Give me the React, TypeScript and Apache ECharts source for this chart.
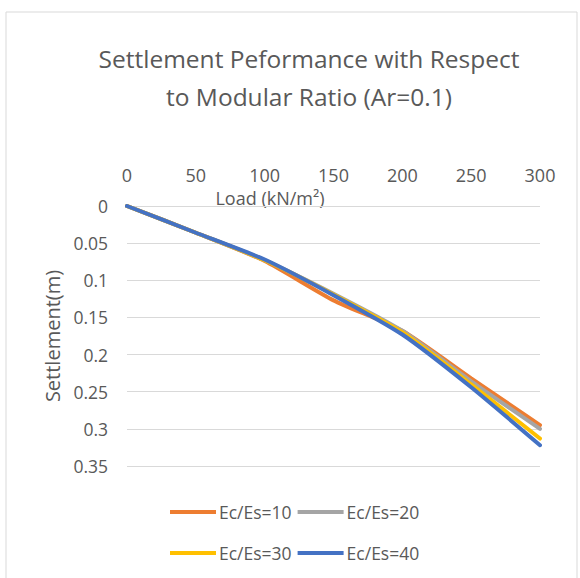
import React, { useEffect, useRef } from "react";
import * as echarts from "echarts";

const loads = [0, 50, 100, 150, 200, 250, 300];
const ratio10 = [0, 0.036, 0.074, 0.127, 0.168, 0.232, 0.295];
const ratio20 = [0, 0.036, 0.073, 0.118, 0.168, 0.236, 0.3];
const ratio30 = [0, 0.036, 0.073, 0.119, 0.17, 0.24, 0.313];
const ratio40 = [0, 0.036, 0.072, 0.12, 0.173, 0.244, 0.322];
const seriesNames = ["Ec/Es=10", "Ec/Es=20", "Ec/Es=30", "Ec/Es=40"];
const seriesColors = ["#ED7D31", "#A5A5A5", "#FFC000", "#4472C4"];

const FONT = "'Open Sans', 'Noto Sans', sans-serif";
const TXT = "#595959";

export default function App() {
  const ref = useRef<HTMLDivElement>(null);

  useEffect(() => {
    if (!ref.current) return;
    const chart = echarts.init(ref.current, undefined, { renderer: "svg" });
    const values = [ratio10, ratio20, ratio30, ratio40];
    const legendItem = (name: string) => ({ name, itemStyle: { color: seriesColors[seriesNames.indexOf(name)] } });
    const legendBase = {
      left: 165,
      icon: "rect",
      itemWidth: 46,
      itemHeight: 4,
      itemGap: 6,
      textStyle: { fontSize: 17.5, color: TXT, fontFamily: FONT, padding: [0, 0, 0, -2] },
    };

    chart.setOption({
      animation: false,
      backgroundColor: "#ffffff",
      textStyle: { fontFamily: FONT },
      title: {
        text: "Settlement Peformance with Respect\nto Modular Ratio (Ar=0.1)",
        left: 304,
        top: 34,
        textAlign: "center",
        textStyle: { fontSize: 24.5, fontWeight: "normal", color: TXT, lineHeight: 38, fontFamily: FONT },
      },
      graphic: [
        {
          type: "rect",
          shape: { x: 6, y: 12, width: 571, height: 600 },
          style: { fill: "none", stroke: "#d9d9d9", lineWidth: 1 },
          silent: true,
        },
        {
          type: "text",
          x: 270,
          y: 198,
          style: {
            text: "Load (kN/m²)",
            fill: TXT,
            font: `18px ${FONT}`,
            textAlign: "center",
            textVerticalAlign: "middle",
          },
          silent: true,
        },
      ],
      legend: [
        {
          ...legendBase,
          data: [legendItem(seriesNames[0]), legendItem(seriesNames[1])],
          top: 498,
        },
        {
          ...legendBase,
          data: [legendItem(seriesNames[2]), legendItem(seriesNames[3])],
          top: 539,
        },
      ],
      grid: { left: 127, right: 40, top: 206, height: 260, containLabel: false },
      xAxis: {
        type: "value",
        position: "top",
        min: 0,
        max: 300,
        interval: 50,
        axisLine: { show: false },
        axisTick: { show: false },
        splitLine: { show: false },
        axisLabel: { fontSize: 18, color: TXT, margin: 22, fontFamily: FONT },
      },
      yAxis: {
        type: "value",
        inverse: true,
        min: 0,
        max: 0.35,
        interval: 0.05,
        name: "Settlement(m)",
        nameLocation: "middle",
        nameGap: 62,
        nameTextStyle: { fontSize: 20, color: TXT, fontFamily: FONT },
        axisLine: { show: false },
        axisTick: { show: false },
        axisLabel: {
          fontSize: 17.5,
          color: TXT,
          margin: 19,
          fontFamily: FONT,
          formatter: (v: number) => String(parseFloat(v.toFixed(2))),
        },
        splitLine: { lineStyle: { color: "#d9d9d9", width: 1 } },
      },
      series: values.map((vals, i) => ({
        name: seriesNames[i],
        type: "line",
        data: loads.map((x, j) => [x, vals[j]]),
        showSymbol: false,
        smooth: 0.2,
        lineStyle: { width: 4, color: seriesColors[i], cap: "round" },
        itemStyle: { color: seriesColors[i] },
      })),
    });

    return () => chart.dispose();
  }, []);

  return (
    <div
      ref={ref}
      style={{ position: "fixed", left: 0, top: 0, width: 580, height: 578 }}
    />
  );
}
